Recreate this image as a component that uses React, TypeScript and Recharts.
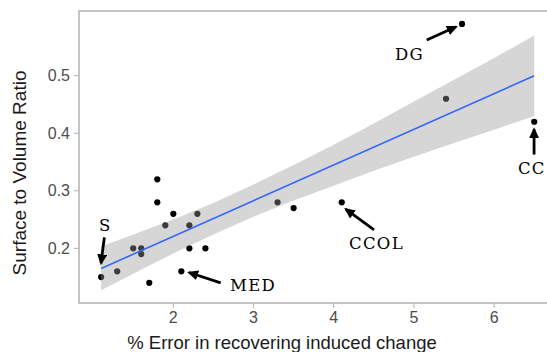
import React from "react";
import {
  ComposedChart,
  Scatter,
  XAxis,
  YAxis,
  ReferenceArea,
} from "recharts";

// observed points (x = % error, y = surface to volume ratio)
const pointX = [1.1, 1.3, 1.5, 1.6, 1.6, 1.7, 1.8, 1.8, 1.9, 2.0, 2.1, 2.2, 2.2, 2.3, 2.4, 3.3, 3.5, 4.1, 5.4, 5.6, 6.5];
const pointY = [0.15, 0.16, 0.2, 0.2, 0.19, 0.14, 0.32, 0.28, 0.24, 0.26, 0.16, 0.24, 0.2, 0.26, 0.2, 0.28, 0.27, 0.28, 0.46, 0.59, 0.42];

// fitted line + confidence band
const fitX = [1.1, 6.5];
const fitY = [0.165, 0.5];
const bandX = [1.1, 1.5, 2.0, 2.5, 3.0, 3.5, 4.0, 4.5, 5.0, 5.5, 6.0, 6.5];
const bandLo = [0.127, 0.156, 0.191, 0.224, 0.255, 0.283, 0.309, 0.335, 0.359, 0.383, 0.406, 0.43];
const bandHi = [0.203, 0.224, 0.25, 0.279, 0.311, 0.345, 0.38, 0.417, 0.455, 0.493, 0.531, 0.57];

// annotation labels and arrows
const labelText = ["S", "MED", "CCOL", "DG", "CC"];
const labelX = [1.074, 2.707, 4.19, 4.764, 6.297];
const labelY = [0.23, 0.1256, 0.1986, 0.528, 0.329];
const arrowFrom = [
  [1.14, 0.219],
  [2.591, 0.14],
  [4.503, 0.232],
  [5.16, 0.562],
  [6.498, 0.363],
];
const arrowTo = [
  [1.099, 0.174],
  [2.196, 0.158],
  [4.15, 0.268],
  [5.525, 0.585],
  [6.498, 0.407],
];

const xTicks = [2, 3, 4, 5, 6];
const yTicks = [0.2, 0.3, 0.4, 0.5];
const X_MIN = 0.824;
const X_MAX = 6.759;
const Y_MIN = 0.105;
const Y_MAX = 0.6125;

const points = pointX.map((x, i) => ({ x, y: pointY[i] }));
const fit = fitX.map((x, i) => ({ x, y: fitY[i] }));
// band as a closed outline: upper edge left→right, lower edge right→left
const bandOutline = [
  ...bandX.map((x, i) => ({ x, y: bandHi[i] })),
  ...bandX.map((x, i) => ({ x, y: bandLo[i] })).reverse(),
];
const arrows = arrowFrom.map((f, i) => [
  { x: f[0], y: f[1] },
  { x: arrowTo[i][0], y: arrowTo[i][1] },
]);
const labels = labelText.map((t, i) => ({ x: labelX[i], y: labelY[i], text: t }));

const SANS = "'Liberation Sans', Arial, sans-serif";
const SERIF = "'DejaVu Serif', serif";

const Nothing = () => <g />;

function LabelShape(props: any) {
  const { cx, cy, payload } = props;
  return (
    <text x={cx} y={cy} fontFamily={SERIF} fontSize={16.5} letterSpacing={1.3} fill="#000">
      {payload.text}
    </text>
  );
}

export default function App() {
  return (
    <div
      style={{
        position: "absolute",
        left: 0,
        top: 0,
        width: 547,
        height: 352,
        overflow: "hidden",
        background: "#fff",
      }}
    >
      {/* arrowhead marker used by the annotation arrows */}
      <svg width={0} height={0} style={{ position: "absolute" }}>
        <defs>
          <marker
            id="arrowhead"
            markerUnits="userSpaceOnUse"
            markerWidth={11}
            markerHeight={10}
            viewBox="0 0 11 10"
            refX={9}
            refY={5}
            orient="auto"
          >
            <path d="M0,0 L11,5 L0,10 Z" fill="#000" />
          </marker>
        </defs>
      </svg>
      <ComposedChart
        width={560}
        height={352}
        margin={{ top: 11, right: 5, bottom: 0, left: 0 }}
      >
        <XAxis
          dataKey="x"
          type="number"
          domain={[X_MIN, X_MAX]}
          allowDataOverflow
          ticks={xTicks}
          height={49}
          axisLine={false}
          tickSize={5}
          tickMargin={4}
          tickLine={{ stroke: "#b3b3b3" }}
          tick={{ fill: "#4d4d4d", fontSize: 16, fontFamily: SANS }}
          label={({ viewBox }: any) => (
            <text
              x={viewBox.x + 203}
              y={viewBox.y + 46}
              textAnchor="middle"
              fontFamily={SANS}
              fontSize={18.5}
              fill="#1a1a1a"
            >
              % Error in recovering induced change
            </text>
          )}
        />
        <YAxis
          dataKey="y"
          type="number"
          domain={[Y_MIN, Y_MAX]}
          allowDataOverflow
          ticks={yTicks}
          width={79}
          axisLine={false}
          tickSize={5}
          tickMargin={4}
          tickLine={{ stroke: "#b3b3b3" }}
          tick={{ fill: "#4d4d4d", fontSize: 16, fontFamily: SANS }}
          tickFormatter={(v: number) => v.toFixed(1)}
          label={() => (
            <text
              x={21}
              y={173}
              transform="rotate(-90 21 173)"
              textAnchor="middle"
              dominantBaseline="middle"
              fontFamily={SANS}
              fontSize={19}
              fill="#1a1a1a"
            >
              Surface to Volume Ratio
            </text>
          )}
        />
        <ReferenceArea
          x1={X_MIN}
          x2={X_MAX}
          y1={Y_MIN}
          y2={Y_MAX}
          fill="none"
          stroke="#b3b3b3"
          strokeWidth={1.5}
        />
        {/* points first, so the translucent band tints the ones it covers */}
        <Scatter
          data={points}
          fill="#000"
          isAnimationActive={false}
          shape={(p: any) => <circle cx={p.cx} cy={p.cy} r={3.1} fill="#000" />}
        />
        <Scatter
          data={bandOutline}
          isAnimationActive={false}
          shape={<Nothing />}
          line={{ fill: "#999999", fillOpacity: 0.4, stroke: "none" }}
          lineJointType="linear"
        />
        <Scatter
          data={fit}
          isAnimationActive={false}
          shape={<Nothing />}
          line={{ stroke: "#3366FF", strokeWidth: 1.6, fill: "none" }}
        />
        {arrows.map((seg, i) => (
          <Scatter
            key={i}
            data={seg}
            isAnimationActive={false}
            shape={<Nothing />}
            line={{
              stroke: "#000",
              strokeWidth: 2.8,
              fill: "none",
              markerEnd: "url(#arrowhead)",
            }}
          />
        ))}
        <Scatter
          data={labels}
          isAnimationActive={false}
          shape={<LabelShape />}
        />
      </ComposedChart>
    </div>
  );
}
